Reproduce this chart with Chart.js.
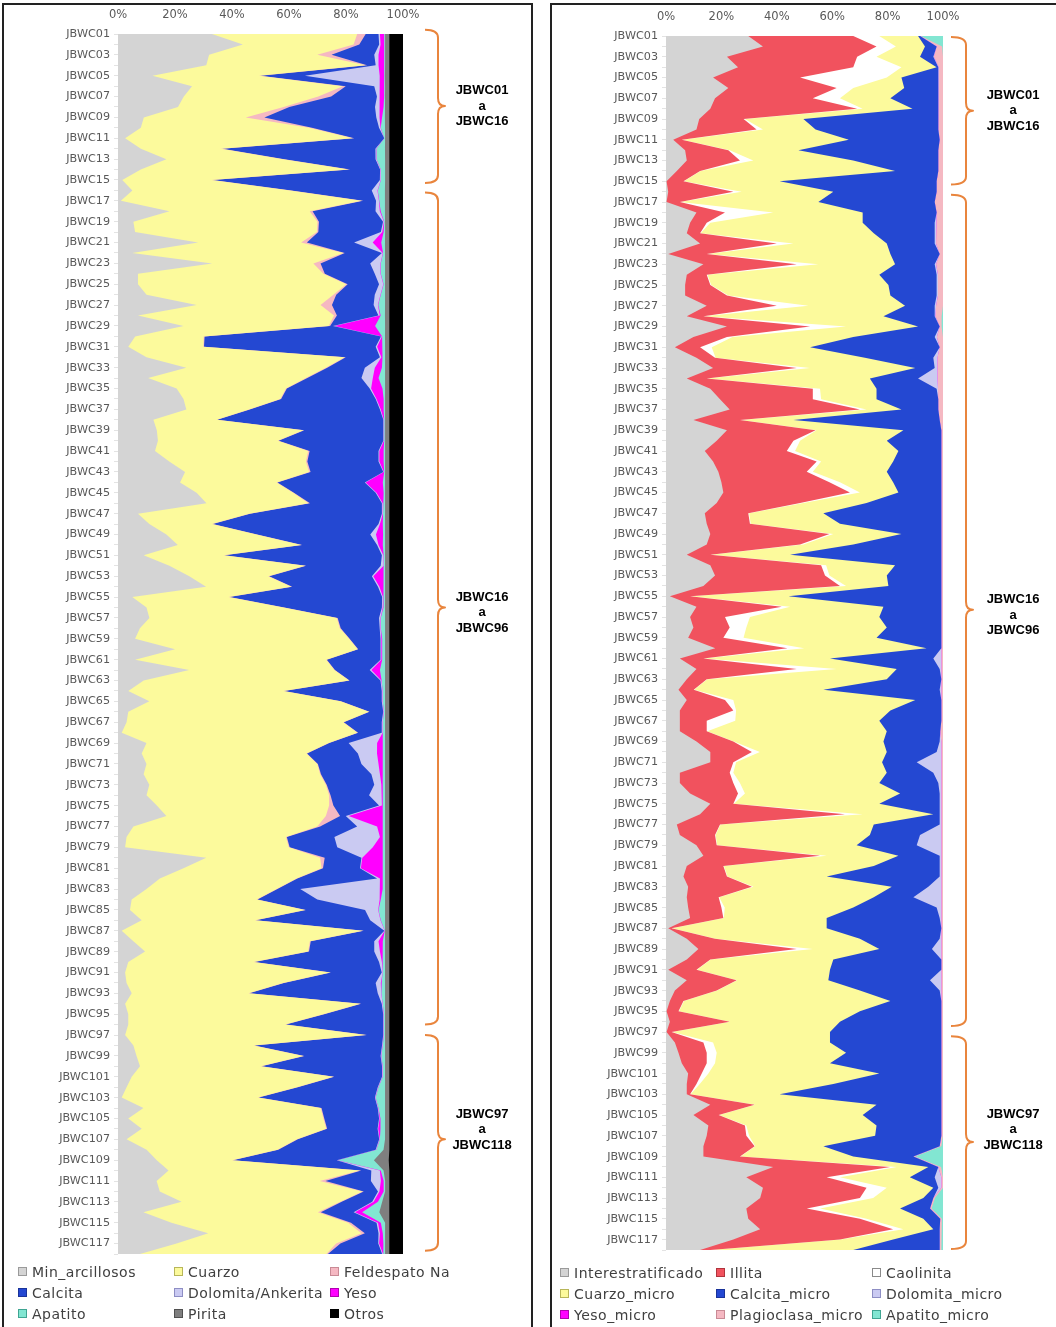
<!DOCTYPE html>
<html><head><meta charset="utf-8">
<script src="https://cdn.jsdelivr.net/npm/chart.js@4/dist/chart.umd.min.js"></script>
<style>
body{margin:0;background:#fff;width:1056px;height:1327px;overflow:hidden;position:relative;}
.panel{position:absolute;border:2px solid #222;box-sizing:border-box;}
canvas{position:absolute;}
.legend{position:absolute;display:grid;grid-template-columns:156px 156px 156px;grid-auto-rows:21px;}
.li{display:flex;align-items:center;font:14px "DejaVu Sans";letter-spacing:0.5px;color:#404040;white-space:nowrap;}
.sw{display:inline-block;width:7px;height:7px;border:1px solid;margin-right:5px;}
</style></head>
<body>
<div class="panel" style="left:2px;top:3px;width:531px;height:1345px"></div>
<div class="panel" style="left:550px;top:3px;width:510px;height:1345px"></div>
<canvas id="c1" width="526" height="1260" style="left:5px;top:5px"></canvas>
<canvas id="c2" width="500" height="1260" style="left:553px;top:5px"></canvas>
<div id="lg1" class="legend" style="left:18px;top:1261px"></div>
<div id="lg2" class="legend" style="left:560px;top:1262px"></div>
<script>
const categories = [
'JBWC01','JBWC02','JBWC03','JBWC04','JBWC05','JBWC06','JBWC07','JBWC08','JBWC09','JBWC10',
'JBWC11','JBWC12','JBWC13','JBWC14','JBWC15','JBWC16','JBWC17','JBWC18','JBWC19','JBWC20',
'JBWC21','JBWC22','JBWC23','JBWC24','JBWC25','JBWC26','JBWC27','JBWC28','JBWC29','JBWC30',
'JBWC31','JBWC32','JBWC33','JBWC34','JBWC35','JBWC36','JBWC37','JBWC38','JBWC39','JBWC40',
'JBWC41','JBWC42','JBWC43','JBWC44','JBWC45','JBWC46','JBWC47','JBWC48','JBWC49','JBWC50',
'JBWC51','JBWC52','JBWC53','JBWC54','JBWC55','JBWC56','JBWC57','JBWC58','JBWC59','JBWC60',
'JBWC61','JBWC62','JBWC63','JBWC64','JBWC65','JBWC66','JBWC67','JBWC68','JBWC69','JBWC70',
'JBWC71','JBWC72','JBWC73','JBWC74','JBWC75','JBWC76','JBWC77','JBWC78','JBWC79','JBWC80',
'JBWC81','JBWC82','JBWC83','JBWC84','JBWC85','JBWC86','JBWC87','JBWC88','JBWC89','JBWC90',
'JBWC91','JBWC92','JBWC93','JBWC94','JBWC95','JBWC96','JBWC97','JBWC98','JBWC99','JBWC100',
'JBWC101','JBWC102','JBWC103','JBWC104','JBWC105','JBWC106','JBWC107','JBWC108','JBWC109','JBWC110',
'JBWC111','JBWC112','JBWC113','JBWC114','JBWC115','JBWC116','JBWC117','JBWC118'];
const xTickLabels = ['0%','20%','40%','60%','80%','100%'];

// ---- Left panel (roca total) ----
const leftNames = ['Min_arcillosos','Cuarzo','Feldespato Na','Calcita','Dolomita/Ankerita','Yeso','Apatito','Pirita','Otros'];
const minArcillosos = [33,44,32,31,12,26,23,21,9,8, 2.5,8,17,8,1.5,5,1,18,5.4,6, 28,5,33,7,7,10,27.6,7,23,6, 3.6,10,24,10.6,20.6,23,24,12.4,13.6,14, 13,18,23.5,21.8,27.6,31,7,11,17,21, 9,18,25,31,5,10,11,7.7,6,20, 6,25,9,3.6,11,3.6,3,1.3,10,8.3, 10,9,11,10,13.6,17,5.4,3,2.5,31, 23,14.7,10,4.8,4.2,8.3,1.3,5.4,9.5,3.6, 2.5,3,4.8,2.5,3.6,3.6,2.5,5.4,6.5,7.7, 4.8,3,1.3,8.9,3.6,8.3,3,10,13.6,17.7, 13.6,14.7,22.3,8.9,18.8,31.7,20.6,7.7];
const cuarzo = [51,39,38,56,37,53,47,37,35.5,59, 80,28,41,73,31.5,55,84,49,64.6,64, 36,74,35.5,65,73,65.5,43.4,68.5,51,24, 26.4,69.6,49,55.4,38.4,34,22,22.2,51.4,42, 53.8,48,43.5,33.9,33.9,35.8,39,22,31.6,43.4, 28,47.6,27.7,30,33.7,48,65.7,70.3,75,64, 67,51,72,54.4,67,84.4,76,82.7,64,57.7, 60,62,62,64,60.4,56,64.6,56,57.5,40, 48.5,48,45.7,43.9,61.4,39.7,84.7,62,57.3,43.9, 71.9,55,40.9,82.5,68.4,55,84.5,42.1,58.5,42.3, 70.7,59.7,47.7,62.1,68.4,64.7,59.7,45.7,26.4,67, 57.4,71.3,55.7,61.1,62.2,53.8,56.1,65.3];
const feldespatoNa = [3,2,5,.5,.5,1,4.5,2,6.5,1, .5,.5,.5,.5,.3,.5,.5,1,.5,.5, 2,.5,2.5,.5,.5,1,4,1,.5,.3, .2,.4,.5,.5,.3,.3,.3,.2,.3,.3, .5,.5,.5,.3,.3,.5,.3,.3,.3,.3, .3,.3,.3,.3,.3,.3,.3,.3,.2,.2, .2,.2,.2,.2,.2,.2,.2,.2,.2,.2, .2,.3,.3,.5,1.5,5,1,.3,.3,1.6, .5,.3,.3,.3,.3,.3,.3,.3,.3,.3, .3,.3,.3,.3,.3,.3,.3,.3,.3,.3, .3,.3,.3,.3,.3,.3,.3,.3,.3,.5, 2,.5,.5,1,1,1.2,1.5,.5];
const calcita = [4.5,7,15,3,15.5,10,16,30,39,23.5, 10.5,53.5,32,10.5,59,28,4.5,22,22.5,22, 16.5,13,17.4,17.5,11,13.5,14.6,14.5,1,61.7, 60.3,12,13.2,19,29.1,33.2,45.7,58.2,27.7,36.7, 24.2,25,25.5,30.7,28.7,25.2,46.2,58.2,39.7,26.3, 55.2,26.1,36,30.2,53.5,34.2,14.5,13.7,10.8,7.8, 18.8,12.2,10.8,34.3,14.3,4.8,13.3,8.3,6.8,17.8, 15.3,17.7,16.7,13.5,16,2,13,16.7,16.7,12.9, 13,28,8,21,20.7,40.1,7.2,22.3,22.9,43.7, 17.8,32.2,45,7.2,20.7,34.1,5.7,44.7,26.7,42.2, 16.7,28,40.7,19.7,19.2,17.7,28.5,34,36.4,3.5, 16,5,10.7,11.5,9,4.8,13.3,19];
const dolomita = [.5,.5,1.5,1,26,2,1,1.5,1,.5, 0,.3,.3,.2,.3,2,1,1.5,.3,.5, 6.5,.3,3.6,2,1.5,2,1.5,.5,.5,.3, .5,.5,3.5,4,.5,.3,.3,.2,.2,.2, .3,.3,.2,.3,.3,.3,.3,.5,2,.5, .5,1,.5,.5,.3,.3,.5,.3,.3,.3, .3,.6,.3,.3,.3,.2,.3,.3,10,6.7, 6,3,2.5,4.5,1,1,7,16,12.5,.3, .3,1,28,21.8,4.6,3.6,.1,1.5,2,1, .3,1.8,1.2,.3,.2,.2,.2,.2,.2,.2, .2,.2,.2,.2,.2,.2,.2,.2,.1,3, 3.5,.5,.5,.5,.5,.5,.3,.3];
const yeso = [1.5,1.3,2,2,1.5,1.5,1.5,1.5,1,.1, 0,.05,.05,.05,.05,.1,.1,.3,.1,.5, 3,.1,.1,.1,.1,.1,.1,.3,14.3,.1, 2,.3,2.5,2,4,2.5,1,.1,.1,.1, 1.5,1.5,.1,6,2.5,.1,.1,1,2.5,1.5, .1,.1,3.5,1.5,.1,.1,.1,.1,.3,.3, .3,3,.1,.05,.05,.05,.05,.05,2,2, 1.5,1,.5,.3,.3,12,2,1,3.5,7, 7.5,1,1,.5,.1,.1,.05,1.5,1,.1, .05,.3,.05,.05,.05,.05,.05,.05,.05,.05, .05,.05,.05,.05,.3,.8,.05,.05,.05,.3, 1,1.5,1.5,2.5,1,1,1.5,.1];
const apatito = [.3,.3,.3,.3,.3,.3,.3,.5,1,1.5, .3,3,3,1.5,1.5,2.5,2,1.5,.3,.5, 1.3,.7,1.5,1.5,.5,1.5,2.4,1.5,3.5,1, .8,1,1.1,2.3,.9,.5,.5,.3,.3,.3, .5,.5,.3,.8,.5,.7,.7,.8,.7,.8, .5,.4,.6,.5,.6,.7,1.5,1.5,1,1, 1,1.8,1.2,.8,.8,.4,.8,.8,.8,.8, .8,.8,.8,.8,.8,.8,.8,.8,.8,1, 1,.8,.8,1.5,2.3,1.5,.1,.8,.8,1, .8,1.2,1.3,.8,.4,.4,.4,.8,1.3,.8, .8,2.3,3.3,2.3,1.6,1.6,1.8,2.5,12.9,1, .5,.5,1.5,6,1.5,.8,.6,.6];
const pirita = [1.5,1.5,1.5,1.5,1.5,1.5,1.5,1.5,1.5,1.5, 1.5,1.5,1.5,1.5,1.5,1.5,1.5,1.5,1.5,1.5, 1.5,1.5,1.5,1.5,1.5,1.5,1.5,1.5,1.5,1.5, 1.5,1.5,1.5,1.5,1.5,1.5,1.5,1.5,1.5,1.5, 1.5,1.5,1.5,1.5,1.5,1.5,1.5,1.5,1.5,1.5, 1.5,1.5,1.5,1.5,1.5,1.5,1.5,1.5,1.5,1.5, 1.5,1.5,1.5,1.5,1.5,1.5,1.5,1.5,1.5,1.5, 1.5,1.5,1.5,1.5,1.5,1.5,1.5,1.5,1.5,1.5, 1.5,1.5,1.5,1.5,1.5,1.5,1.5,1.5,1.5,1.5, 1.5,1.5,1.5,1.5,1.5,1.5,1.5,1.5,1.5,1.5, 1.5,1.5,1.5,1.5,1.5,1.5,1.5,2,5.2,2, 1.5,1.5,2.5,3.5,1.5,1.5,1.5,1.5];
const otros = [4.8,4.8,4.8,4.8,4.8,4.8,4.8,4.8,4.8,4.8, 4.8,4.8,4.8,4.8,4.8,4.8,4.8,4.8,4.8,4.8, 4.8,4.8,4.8,4.8,4.8,4.8,4.8,4.8,4.8,4.8, 4.8,4.8,4.8,4.8,4.8,4.8,4.8,4.8,4.8,4.8, 4.8,4.8,4.8,4.8,4.8,4.8,4.8,4.8,4.8,4.8, 4.8,4.8,4.8,4.8,4.8,4.8,4.8,4.8,4.8,4.8, 4.8,4.8,4.8,4.8,4.8,4.8,4.8,4.8,4.8,4.8, 4.8,4.8,4.8,4.8,4.8,4.8,4.8,4.8,4.8,4.8, 4.8,4.8,4.8,4.8,4.8,4.8,4.8,4.8,4.8,4.8, 4.8,4.8,4.8,4.8,4.8,4.8,4.8,4.8,4.8,4.8, 4.8,4.8,4.8,4.8,4.8,4.8,4.8,4.8,5,4.8, 4.8,4.8,4.8,4.8,4.8,4.8,4.8,4.8];

// ---- Right panel (fracción fina / micro) ----
const rightNames = ['Interestratificado','Illita','Caolinita','Cuarzo_micro','Calcita_micro','Dolomita_micro','Yeso_micro','Plagioclasa_micro','Apatito_micro'];
const interestratificado = [29.7,35,22,26,17,22.5,17.7,16,12,11, 2.6,6.9,7.5,3.9,.2,.8,.2,11,8.7,7.5, 12.3,.8,13.5,7.5,6.9,6.9,14.7,7.5,22,9.9, 3.2,11,17,7.5,16,19.5,23,9.9,22,18.3, 14,17,18.9,20,20.7,18.3,14,14.7,16,14.7, 7.5,16,17.7,13.5,1.4,11,8.7,9.9,8,17.7, 5,11,7.5,4.5,7.5,5,5,5,11,16, 16,5,5,8.7,16,12.3,3.9,5,11,13.5, 7.5,6.3,8,7.5,8,8.7,.8,7.5,11.7,7.5, .8,7.5,3.2,1.4,.2,1.4,.2,3.2,4.5,5.7, 8,7.5,7.5,16,9.9,15.3,14.7,13.5,13.5,38.7, 29,35,34,29,29.7,34,24.3,12.3];
const illita = [37.9,41,47,41.6,31.4,39.1,35.3,53,16,21.7, 3.1,15.6,19.2,8.4,6.1,23.5,4.8,10.3,6,4.8, 27.7,13.9,33.7,7.2,9.1,15.1,25.3,6,30,12.1, 9.1,6.7,30.2,7.2,37,33.5,47,16.8,32,27.7, 29.6,37.4,31.9,39,45.7,30.1,15.7,15.6,43,33.7, 8.5,40,39.7,49.3,7.3,30.8,12.6,13.1,12.7,25.9, 8.5,36.2,7.2,5.5,13.8,19.3,9.7,9.7,13.3,15, 8.3,18,19.3,17.3,8.3,52.3,15.6,12.7,7.3,42.1, 13.2,15.7,23,11.5,12,12,1.2,10.2,35.5,8.5, 10.2,18,15.1,4.9,4.3,21.6,1.8,10.3,10.2,9, 4.9,3.5,1.2,16,9.1,13.2,14.3,18.5,13.2,42.2, 29,37.4,36,21.8,40.3,48,38.5,3.7];
const caolinita = [9.4,7,7,17.4,31.3,6,9.8,2,.5,2.3, .2,.5,4.8,.2,.2,3,.2,17.4,1.3,.2, 6,.2,7.8,.3,.3,.5,11.4,.2,13,2, 4.2,.2,4.8,.2,2.6,3,2.4,.3,.3,2.4, 3,1.6,2.2,3.8,3.6,1.2,.3,.3,1.4,1.2, .3,1.8,1.6,2.2,.2,3,9,6,7.3,6, .2,14.4,.2,.2,3,1,10.3,.2,.2,2.9, 1,1.3,2.4,2.5,.2,6.4,.2,.2,.2,2.4, .2,.2,.6,.2,1.2,.2,.2,.2,5.8,.2, .2,.2,.2,.2,.2,.2,.2,3.5,3.6,3, 2.4,1.2,.2,.2,.2,.5,1,.2,.2,2.4, 4.8,7.3,4.8,4.8,2.4,3.7,.2,.2];
const cuarzoMicro = [14,10.5,15.7,12.7,5.3,18.4,18.2,18,21.1,19, 60.1,24.8,36.1,70.2,34.5,33.1,49.8,32.3,55,62.5, 33.7,66.1,27.7,62,64,58.5,34.9,64.8,26,43.6, 35.5,53.9,38,58.7,20.4,20,12.6,19,31.4,31.3, 37.3,26,26.7,19.2,13.9,22.8,26.8,32.2,24.6,18, 28.5,24.9,20.7,15.3,35.3,33.7,46.7,50.7,48,43.9, 45.5,21.7,64.8,46.6,65.7,55.7,52,64.8,54,45.8, 52.7,55.4,50.3,56,52.5,25.5,55.3,55.7,50.3,25.9, 54.1,35.8,49.9,55.8,46.4,37.1,55.8,52.1,24,44.2, 48,32.9,51.5,74.5,65.3,39.6,57,42.2,46.7,41.5, 61.7,48.2,32.1,43.8,51.8,47,45.5,24.6,40.7,11.4, 25.2,16.8,18.1,28.9,20.5,10.8,19,51.4];
const calcitaMicro = [.7,4.2,4.8,.6,13.3,12.3,17.3,9.3,48.7,44.3, 32.8,50.5,30.7,15.6,56.7,37.3,42,26.7,26,22, 17.3,17.8,14.3,20.7,17.4,16.7,10.7,18.5,7.8,29.4, 46.8,24.7,7,17.4,21.7,22.3,13.3,52.8,13.7,19.7, 15.5,17.4,19.7,17.4,15.5,27,42.6,36.6,14.4,31.8, 54.6,16.7,19.7,19.1,55.2,20.9,22.4,19.7,23.4,5.3, 37.3,15.5,19.7,42,9.4,18.4,22.4,19.3,20.3,18, 12.5,16.8,21.3,14.3,21.8,2.3,23.8,18.1,21.7,14.9, 23.8,40.8,13.2,14.3,30.1,40.8,41.4,28.8,19,39, 40.2,36.7,28.8,18.4,29.4,36.6,40.2,40.2,34.4,40.2, 22.4,39,58.4,23.4,28.4,23.4,23.9,42,21.7,3.6, 9,1.8,3.6,10.8,6.1,2.3,16.8,31.2];
const dolomitaMicro = [0,0,.2,.2,.2,0,0,0,0,0, 0,0,0,0,0,0,0,0,.5,.5, .5,0,.5,.5,.5,.5,.5,.3,0,.8, 0,1.5,1,7,.5,0,0,0,0,0, 0,0,0,0,0,0,0,0,0,0, 0,0,0,0,0,0,0,0,0,0, 3,.5,0,.6,0,0,0,0,.6,1.7, 8.9,2.9,1.1,.6,.6,.6,.6,7.7,8.9,.6, .6,.6,4.7,10.1,1.7,.6,0,.6,3.4,0, 0,4.1,.6,0,0,0,0,0,0,0, 0,0,0,0,0,0,0,0,0,0, 2.4,1.1,0,0,0,0,0,0];
const yesoMicro = [0,0,0,0,0,0,0,0,0,0, 0,0,0,0,0,0,0,0,0,0, 0,0,0,0,0,0,0,0,0,0, 0,0,0,0,0,0,0,0,0,0, 0,0,0,0,0,0,0,0,0,0, 0,0,0,0,0,0,0,0,0,0, 0,0,0,0,0,0,0,0,0,0, 0,0,0,0,0,0,0,0,0,0, 0,0,0,0,0,0,0,0,0,0, 0,0,0,0,0,0,0,0,0,0, 0,0,0,0,0,0,0,0,0,0, 0,0,0,0,0,0,0,0];
const plagioclasaMicro = [.3,2,3.3,1.5,1.5,1.7,1.7,1.7,1.7,1.7, 1.2,1.7,1.7,1.7,2.3,2.3,3,2.3,2.5,2.5, 2.5,1.2,2.5,1.8,1.8,1.8,2.5,2.2,.7,2.2, 1.2,2,2,2,1.8,1.7,1.7,1.2,.6,.6, .6,.6,.6,.6,.6,.6,.6,.6,.6,.6, .6,.6,.6,.6,.6,.6,.6,.6,.6,.6, .5,.7,.6,.6,.6,.6,.6,1,.6,.6, .6,.6,.6,.6,.6,.6,.6,.6,.6,.6, .6,.6,.6,.6,.6,.6,.6,.6,.6,.6, .6,.6,.6,.6,.6,.6,.6,.6,.6,.6, .6,.6,.6,.6,.6,.6,.6,.6,.6,1, .6,.6,.6,.6,.6,.6,.6,.6];
const apatitoMicro = [8,.3,0,0,0,0,0,0,0,0, 0,0,0,0,0,0,0,0,0,0, 0,0,0,0,0,0,0,.5,.5,0, 0,0,0,0,0,0,0,0,0,0, 0,0,0,0,0,0,0,0,0,0, 0,0,0,0,0,0,0,0,0,0, 0,0,0,0,0,0,0,0,0,0, 0,0,0,0,0,0,0,0,0,0, 0,0,0,0,0,0,0,0,0,0, 0,0,0,0,0,0,0,0,0,0, 0,0,0,0,0,0,0,.6,10.1,.7, 0,0,2.9,4.1,.4,.6,.6,.6];

// Bracket groups
const bracketLabels = [['JBWC01','a','JBWC16'],['JBWC16','a','JBWC96'],['JBWC97','a','JBWC118']];

// ---- styles ----
const leftColors = ['#d4d4d4','#fcfa9c','#f5b8c2','#2448d2','#cacaf2','#ff00ff','#82e6d2','#7f7f7f','#000000'];
const leftBorders = ['#9a9a9a','#b8b65a','#c98a95','#1a3399','#8e8ec4','#b000b0','#3fa592','#505050','#000000'];
const rightColors = ['#d4d4d4','#f1525e','#ffffff','#fcfa9c','#2448d2','#cacaf2','#ff00ff','#f5b8c2','#82e6d2'];
const rightBorders = ['#9a9a9a','#b0343d','#8a8a8a','#b8b65a','#1a3399','#8e8ec4','#b000b0','#c98a95','#3fa592'];

function normalize(series){
  const tot = series[0].map((_,i)=>series.reduce((s,a)=>s+a[i],0));
  return series.map(a=>a.map((v,i)=>v/tot[i]*100));
}

const bracketPlugin = {
  id:'brackets',
  afterDraw(chart, args, o){
    const {ctx, chartArea} = chart; const y = chart.scales.y;
    ctx.save();
    ctx.strokeStyle = '#e9853d'; ctx.lineWidth = 2; ctx.lineJoin='round';
    o.groups.forEach((g,gi)=>{
      const y1 = y.getPixelForValue(g.from), y2 = y.getPixelForValue(g.to);
      const ym = y.getPixelForValue(g.tip);
      const x0 = chartArea.right + o.x0, x1 = chartArea.right + o.x1, x2 = chartArea.right + o.x2;
      const r = 8;
      ctx.beginPath();
      ctx.moveTo(x0, y1);
      ctx.quadraticCurveTo(x1, y1, x1, y1 + r);
      ctx.lineTo(x1, ym - r);
      ctx.quadraticCurveTo(x1, ym, x2, ym);
      ctx.quadraticCurveTo(x1, ym, x1, ym + r);
      ctx.lineTo(x1, y2 - r);
      ctx.quadraticCurveTo(x1, y2, x0, y2);
      ctx.stroke();
      ctx.fillStyle = '#000'; ctx.font = 'bold 13px "Liberation Sans"';
      ctx.textAlign = 'center'; ctx.textBaseline = 'middle';
      const yl = y.getPixelForValue(g.labelAt);
      bracketLabels[gi].forEach((t,k)=>ctx.fillText(t, chartArea.right + o.xl, yl + (k-1)*15.5));
    });
    ctx.restore();
  }
};

function makeChart(id, names, colors, series, opt){
  const norm = normalize(series);
  return new Chart(document.getElementById(id), {
    type:'line',
    data:{labels:categories, datasets:names.map((n,i)=>({
      label:n, data:norm[i], backgroundColor:colors[i], borderColor:'transparent', borderWidth:0,
      pointRadius:0, pointHoverRadius:0, fill:'origin', tension:0
    }))},
    options:{
      indexAxis:'y', responsive:false, animation:false, events:[],
      layout:{padding:{left:0, right:opt.padRight, top:0, bottom:opt.padBottom}},
      plugins:{legend:{display:false}, tooltip:{enabled:false}, brackets:opt.brackets},
      scales:{
        x:{type:'linear', position:'top', stacked:true, min:0, max:100,
           ticks:{stepSize:20, callback:(v)=>xTickLabels[Math.round(v/20)], color:'#595959', font:{family:'DejaVu Sans', size:11.5}, padding:opt.xPad, maxRotation:0},
           grid:{display:false, drawTicks:false}, border:{display:false},
           afterFit:(s)=>{s.height = opt.top;}},
        y:{type:'category', stacked:true, offset:false,
           ticks:{autoSkip:false, callback:(v,i)=> i%2===0 ? categories[i] : '', color:'#595959', font:{family:'DejaVu Sans', size:11.2}, padding:4},
           grid:{drawOnChartArea:false, drawTicks:true, tickLength:4, color:'#e3e3e3'}, border:{display:false},
           afterFit:(s)=>{s.width = 113;}}
      }
    },
    plugins:[bracketPlugin]
  });
}

makeChart('c1', leftNames, leftColors,
  [minArcillosos,cuarzo,feldespatoNa,calcita,dolomita,yeso,apatito,pirita,otros],
  {padRight:128, padBottom:11, top:29, xPad:12,
   brackets:{x0:22, x1:35, x2:42, xl:79, groups:[
     {from:-0.4, to:14.3, tip:6.9, labelAt:6.9},
     {from:15.2, to:95.0, tip:55.0, labelAt:55.5},
     {from:96.0, to:116.7, tip:106.0, labelAt:105.1}]}});

makeChart('c2', rightNames, rightColors,
  [interestratificado,illita,caolinita,cuarzoMicro,calcitaMicro,dolomitaMicro,yesoMicro,plagioclasaMicro,apatitoMicro],
  {padRight:110, padBottom:15, top:31, xPad:12,
   brackets:{x0:8, x1:23, x2:30, xl:70, groups:[
     {from:0.1, to:14.3, tip:7.2, labelAt:7.2},
     {from:15.3, to:95.4, tip:55.3, labelAt:55.8},
     {from:96.4, to:116.9, tip:106.6, labelAt:105.4}]}});

function buildLegend(id, names, colors, borders){
  const el = document.getElementById(id);
  names.forEach((n,i)=>{
    const d = document.createElement('div'); d.className='li';
    const s = document.createElement('span'); s.className='sw';
    s.style.background = colors[i]; s.style.borderColor = borders[i];
    d.appendChild(s); d.appendChild(document.createTextNode(n));
    el.appendChild(d);
  });
}
buildLegend('lg1', leftNames, leftColors, leftBorders);
buildLegend('lg2', rightNames, rightColors, rightBorders);
</script>
</body></html>
